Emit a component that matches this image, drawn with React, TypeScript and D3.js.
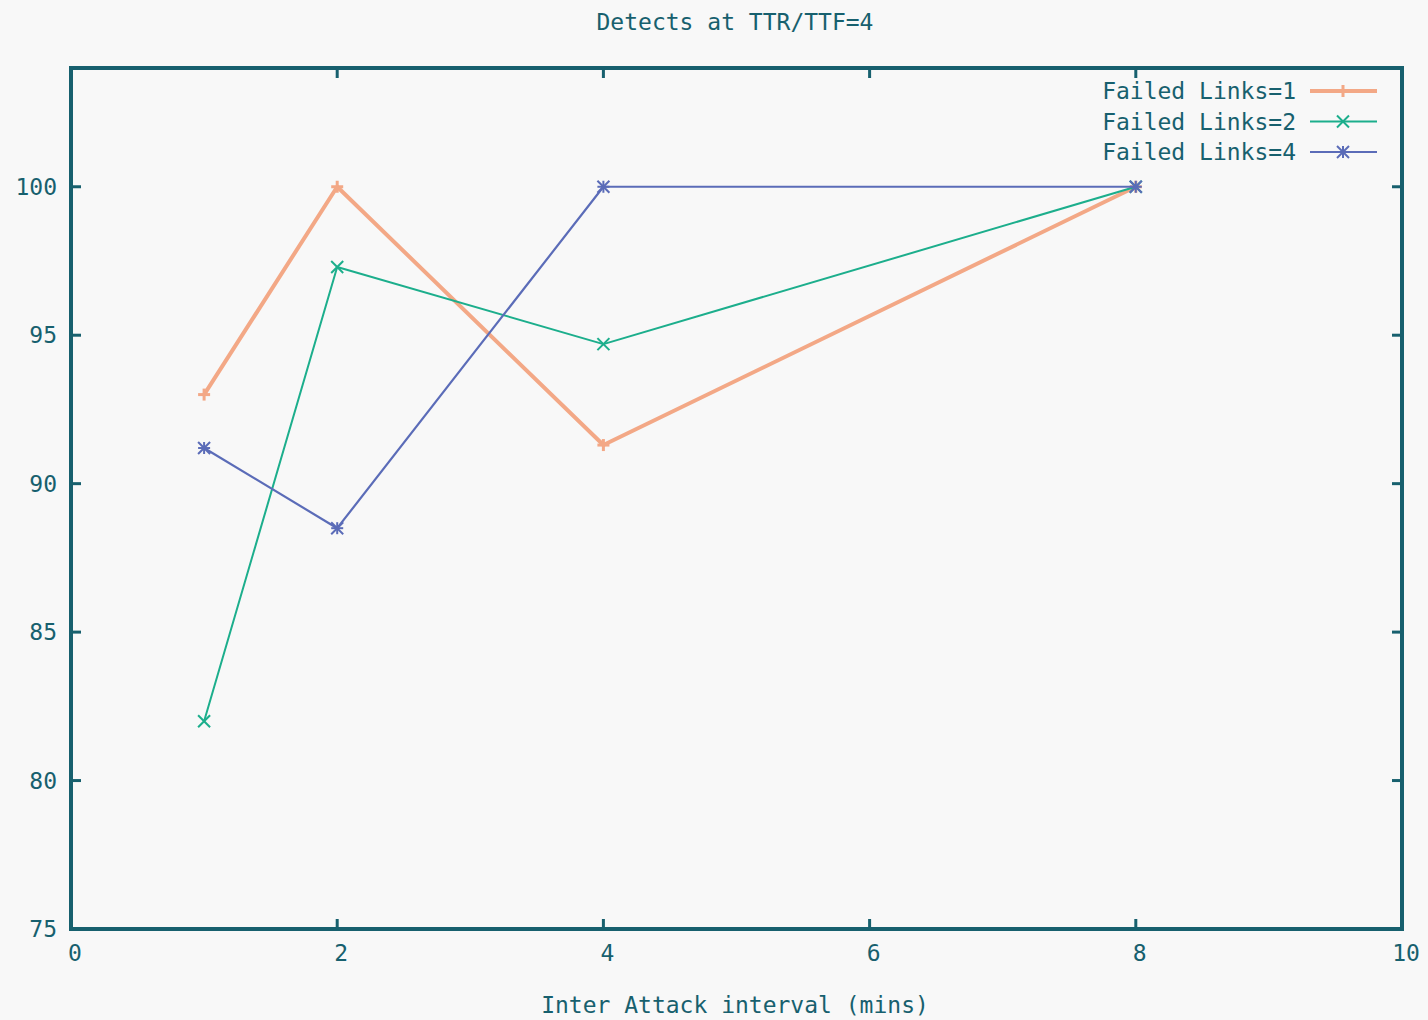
import { useEffect, useRef } from "react";
import * as d3 from "d3";

const xValues = [1, 2, 4, 8];
const links1 = [93.0, 100, 91.3, 100];
const links2 = [82.0, 97.3, 94.7, 100];
const links4 = [91.2, 88.5, 100, 100];
const seriesNames = ["Failed Links=1", "Failed Links=2", "Failed Links=4"];
const xTicks = [0, 2, 4, 6, 8, 10];
const yTicks = [75, 80, 85, 90, 95, 100];

const W = 1428;
const H = 1020;
const FONT = "'DejaVu Sans Mono', 'Liberation Mono', monospace";
const INK = "#17606e";

export default function App() {
  const ref = useRef<SVGSVGElement>(null);

  useEffect(() => {
    document.body.style.margin = "0";
    const svg = d3.select(ref.current);
    svg.selectAll("*").remove();

    const left = 71, right = 1402, top = 68, bottom = 929;
    const x = d3.scaleLinear().domain([0, 10]).range([left, right]);
    const y = d3.scaleLinear().domain([75, 104]).range([bottom, top]);

    svg.append("rect").attr("width", W).attr("height", H).attr("fill", "#f8f8f8");

    const series = [
      { name: seriesNames[0], values: links1, color: "#f3a886", width: 4, marker: "plus" },
      { name: seriesNames[1], values: links2, color: "#1cae8c", width: 2, marker: "cross" },
      { name: seriesNames[2], values: links4, color: "#5b6cb8", width: 2.2, marker: "star" },
    ];

    const marker = (g: any, kind: string, cx: number, cy: number, color: string) => {
      const s = 6;
      const segs: number[][] = [];
      if (kind === "plus" || kind === "star") segs.push([-s, 0, s, 0], [0, -s, 0, s]);
      if (kind === "cross" || kind === "star") segs.push([-s, -s, s, s], [-s, s, s, -s]);
      segs.forEach((d) =>
        g.append("line")
          .attr("x1", cx + d[0]).attr("y1", cy + d[1])
          .attr("x2", cx + d[2]).attr("y2", cy + d[3])
          .attr("stroke", color).attr("stroke-width", kind === "plus" ? 3 : 2)
      );
    };

    const line = d3.line<number>().x((_, i) => x(xValues[i])).y((d) => y(d));

    series.forEach((s) => {
      svg.append("path")
        .attr("d", line(s.values))
        .attr("fill", "none")
        .attr("stroke", s.color)
        .attr("stroke-width", s.width)
        .attr("stroke-linejoin", "round");
      const g = svg.append("g");
      s.values.forEach((v, i) => marker(g, s.marker, x(xValues[i]), y(v), s.color));
    });

    // frame
    svg.append("rect")
      .attr("x", left).attr("y", top)
      .attr("width", right - left).attr("height", bottom - top)
      .attr("fill", "none").attr("stroke", INK).attr("stroke-width", 4);

    const tl = 10;
    yTicks.forEach((t) => {
      svg.append("line").attr("x1", left).attr("x2", left + tl).attr("y1", y(t)).attr("y2", y(t))
        .attr("stroke", INK).attr("stroke-width", 3);
      svg.append("line").attr("x1", right).attr("x2", right - tl).attr("y1", y(t)).attr("y2", y(t))
        .attr("stroke", INK).attr("stroke-width", 3);
      svg.append("text").attr("x", left - 14).attr("y", y(t)).attr("dy", "0.35em")
        .attr("text-anchor", "end").attr("font-family", FONT).attr("font-size", 23)
        .attr("fill", INK).text(t);
    });
    xTicks.forEach((t) => {
      svg.append("line").attr("x1", x(t)).attr("x2", x(t)).attr("y1", bottom).attr("y2", bottom - tl)
        .attr("stroke", INK).attr("stroke-width", 3);
      svg.append("line").attr("x1", x(t)).attr("x2", x(t)).attr("y1", top).attr("y2", top + tl)
        .attr("stroke", INK).attr("stroke-width", 3);
      svg.append("text").attr("x", x(t) + 4).attr("y", bottom + 32)
        .attr("text-anchor", "middle").attr("font-family", FONT).attr("font-size", 23)
        .attr("fill", INK).text(t);
    });

    svg.append("text").attr("x", 735).attr("y", 30).attr("text-anchor", "middle")
      .attr("font-family", FONT).attr("font-size", 23).attr("fill", INK)
      .text("Detects at TTR/TTF=4");
    svg.append("text").attr("x", 735).attr("y", 1013).attr("text-anchor", "middle")
      .attr("font-family", FONT).attr("font-size", 23).attr("fill", INK)
      .text("Inter Attack interval (mins)");

    // legend
    series.forEach((s, i) => {
      const ly = 91 + i * 30.5;
      svg.append("text").attr("x", 1296).attr("y", ly).attr("dy", "0.35em")
        .attr("text-anchor", "end").attr("font-family", FONT).attr("font-size", 23)
        .attr("fill", INK).text(s.name);
      svg.append("line").attr("x1", 1310).attr("x2", 1377).attr("y1", ly).attr("y2", ly)
        .attr("stroke", s.color).attr("stroke-width", s.width);
      marker(svg.append("g"), s.marker, 1343, ly, s.color);
    });
  }, []);

  return <svg ref={ref} width={W} height={H} style={{ display: "block" }} />;
}
